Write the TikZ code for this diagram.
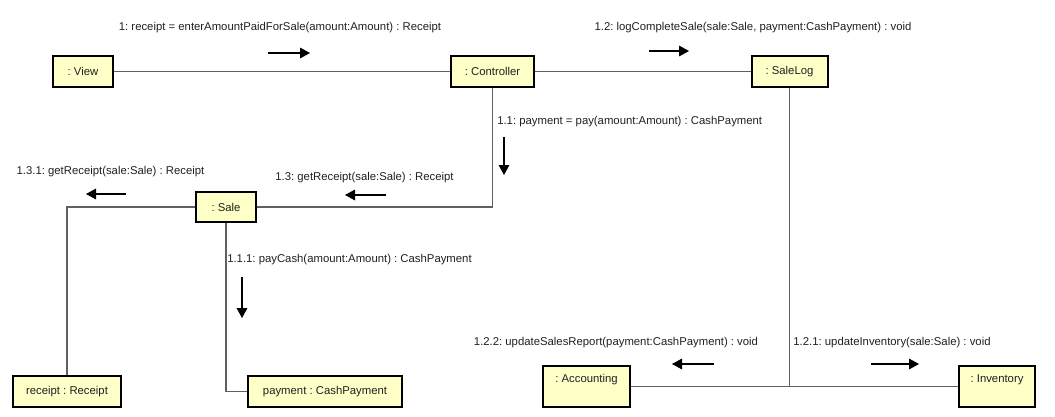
\documentclass[tikz,border=0pt]{standalone}
\usepackage{fontspec}
\setmainfont{Liberation Sans}
\frenchspacing
\usetikzlibrary{arrows.meta}
\definecolor{boxfill}{HTML}{FFFFC8}
\definecolor{linegray}{HTML}{606060}
\definecolor{txt}{HTML}{202020}
\begin{document}
\begin{tikzpicture}[x=0.75pt,y=-0.75pt,
  obj/.style={draw=black, line width=1.5pt, fill=boxfill, inner sep=0pt,
    font=\fontsize{8.5}{10}\selectfont, text=txt, anchor=center},
  tallobj/.style={obj, text height=12pt, text depth=18.5pt},
  link/.style={draw=linegray, line width=0.8pt},
  msg/.style={font=\fontsize{8.5}{10}\selectfont, text=txt, inner sep=0pt},
  msgarrow/.style={draw=black, line width=0.8pt, -{Triangle[length=7.5pt,width=8pt]}}
]
\useasboundingbox (0,0) rectangle (1055,417);
% objects
\node[obj, minimum width=45pt, minimum height=23pt] (view) at (83,71.5) {: View};
\node[obj, minimum width=62pt, minimum height=23pt] (ctrl) at (492.5,71.5) {: Controller};
\node[obj, minimum width=57pt, minimum height=23pt] (salelog) at (789.5,71.5) {: SaleLog};
\node[obj, minimum width=45pt, minimum height=22.5pt] (sale) at (226,207) {: Sale};
\node[obj, minimum width=81pt, minimum height=23pt] (rec) at (67,391.5) {receipt : Receipt};
\node[obj, minimum width=115.5pt, minimum height=23pt] (pay) at (325,391.5) {payment : CashPayment};
\node[tallobj, minimum width=65pt, minimum height=30.5pt] (acc) at (586.5,386.5) {: Accounting};
\node[tallobj, minimum width=57pt, minimum height=30.5pt] (inv) at (997,386.5) {: Inventory};
% links
\draw[link] (view) -- (ctrl);
\draw[link] (ctrl) -- (salelog);
\draw[link] (ctrl.south) |- (sale.east);
\draw[link] (sale.west) -| (rec.north);
\draw[link] (sale.south) |- (pay.west);
\draw[link] (acc.east) -- (inv.west);
\coordinate (junc) at (salelog.south |- acc.east);
\draw[link] (salelog.south) -- (junc);
% messages
\node[msg] (m1) at (280,28) {1: receipt = enterAmountPaidForSale(amount:Amount) : Receipt};
\node[msg] (m12) at (753,28) {1.2: logCompleteSale(sale:Sale, payment:CashPayment) : void};
\node[msg, anchor=west] (m11) at (497,122) {1.1: payment = pay(amount:Amount) : CashPayment};
\node[msg] (m13) at (364.5,178) {1.3: getReceipt(sale:Sale) : Receipt};
\node[msg] (m131) at (110.5,172) {1.3.1: getReceipt(sale:Sale) : Receipt};
\node[msg, anchor=west] (m111) at (227,260) {1.1.1: payCash(amount:Amount) : CashPayment};
\node[msg] (m122) at (616,343) {1.2.2: updateSalesReport(payment:CashPayment) : void};
\node[msg] (m121) at (892,343) {1.2.1: updateInventory(sale:Sale) : void};
% arrows
\coordinate (a1s) at (268,53); \coordinate (a1e) at (310,53);
\coordinate (a12s) at (649,51); \coordinate (a12e) at (689,51);
\coordinate (a11s) at (504,137); \coordinate (a11e) at (504,175);
\coordinate (a13s) at (386,195); \coordinate (a13e) at (345,195);
\coordinate (a131s) at (126,194); \coordinate (a131e) at (86,194);
\coordinate (a111s) at (242,277); \coordinate (a111e) at (242,318);
\coordinate (a122s) at (714,364); \coordinate (a122e) at (672,364);
\coordinate (a121s) at (871,364); \coordinate (a121e) at (919,364);
\draw[msgarrow] (a1s) -- (a1e);
\draw[msgarrow] (a12s) -- (a12e);
\draw[msgarrow] (a11s) -- (a11e);
\draw[msgarrow] (a13s) -- (a13e);
\draw[msgarrow] (a131s) -- (a131e);
\draw[msgarrow] (a111s) -- (a111e);
\draw[msgarrow] (a122s) -- (a122e);
\draw[msgarrow] (a121s) -- (a121e);
\end{tikzpicture}
\end{document}
